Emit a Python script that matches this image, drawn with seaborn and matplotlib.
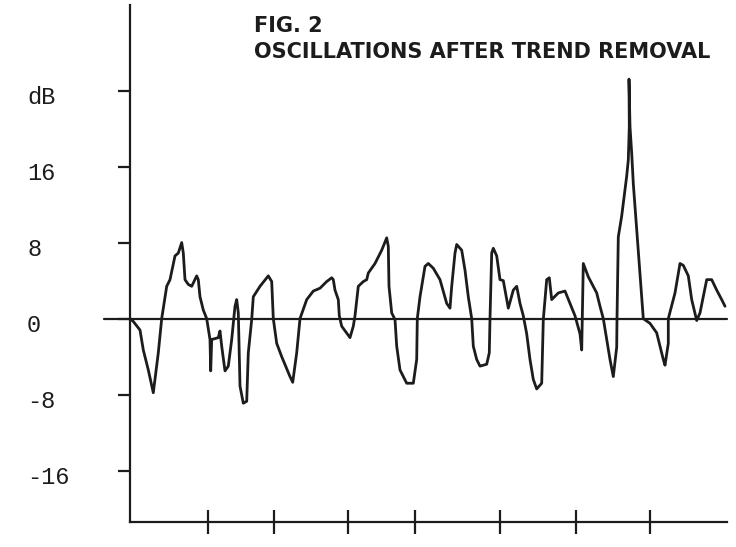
import matplotlib
matplotlib.use("Agg")
import matplotlib.pyplot as plt
import matplotlib.transforms as mtransforms
import numpy as np
import pandas as pd
import seaborn as sns

# ---- data ----
t = [0.0, 3.3, 10.0, 13.3, 18.3, 23.3, 28.3, 31.7, 36.7, 40.0, 45.0, 48.3, 51.7, 53.3, 55.0,
     58.3, 61.7, 66.7, 68.3, 70.0, 73.3, 76.7, 80.0, 80.7, 81.7, 88.3, 90.0, 91.7, 95.0, 98.3,
     101.7, 105.0, 106.7, 108.3, 110.0, 113.3, 116.7, 118.3, 121.7, 123.3, 130.0, 138.3, 141.7,
     143.3, 146.7, 151.7, 160.0, 162.7, 166.7, 170.0, 176.7, 183.3, 190.0,
     196.7, 201.7, 203.3, 205.0, 208.3, 209.3, 211.7, 220.0, 223.3, 225.0, 228.3, 233.3, 236.7,
     238.3, 245.0, 251.7, 256.7, 258.3, 259.0, 261.7, 265.0, 266.7, 270.0, 276.7, 283.3, 286.7,
     287.3, 290.0, 295.0, 298.3, 303.3, 310.0, 316.7, 320.0, 321.7, 325.0, 326.7, 331.7, 335.0,
     338.3, 341.7, 343.3, 346.7, 350.0, 356.7, 359.3, 360.0, 361.7, 363.3, 366.7, 370.0, 373.3,
     378.3, 383.3, 386.7, 390.0, 393.3, 396.7, 400.0, 403.3, 406.7, 411.7, 413.3, 416.7, 419.3,
     421.7, 428.3, 435.0, 440.0, 445.0, 450.0, 451.7, 453.3, 458.3, 466.7, 470.0, 473.3, 480.0,
     483.3, 486.7, 487.0, 488.3, 491.7, 496.7, 498.3, 499.3, 499.0, 500.0, 501.7, 503.3, 506.7,
     510.0, 513.3, 520.0, 526.7, 533.3, 535.0, 538.3, 538.3, 545.0, 550.0, 553.3, 558.3, 561.7,
     566.7, 570.0, 573.3, 576.7, 581.7, 586.7, 591.7, 595.0]
db = [0.0, -0.3, -1.2, -3.3, -5.4, -7.8, -3.6, 0.0, 3.4, 4.1, 6.6, 6.9, 8.0, 6.9, 4.1,
      3.6, 3.4, 4.5, 4.1, 2.3, 0.9, 0.0, -2.2, -5.5, -2.2, -2.0, -1.3, -2.9, -5.5, -5.0,
      -2.2, 1.3, 2.0, 0.6, -7.1, -8.9, -8.7, -3.6, -0.1, 2.3, 3.4, 4.5, 3.9,
      0.0, -2.6, -4.0, -6.1, -6.7, -3.6, 0.0, 2.0, 2.9, 3.2,
      3.9, 4.3, 4.1, 3.0, 2.0, 0.3, -0.8, -2.0, -0.8, 0.3, 3.4, 3.9, 4.1,
      4.8, 5.8, 7.2, 8.5, 7.6, 3.4, 0.6, -0.1, -2.9, -5.4, -6.8, -6.8, -4.3,
      0.0, 2.3, 5.5, 5.8, 5.3, 4.1, 1.6, 1.1, 3.4, 6.9, 7.8, 7.2, 5.1,
      2.3, 0.0, -2.9, -4.3, -5.0, -4.8, -3.6, 0.0, 6.9, 7.4, 6.6, 4.1, 4.0,
      1.1, 3.0, 3.4, 1.6, 0.3, -1.6, -4.3, -6.4, -7.4, -6.8, -0.1, 4.1, 4.3,
      2.0, 2.7, 2.9, 1.6, 0.3, -1.6, -3.3, 5.8, 4.4, 2.7, 1.3, 0.0, -4.3,
      -6.1, -3.0, 0.0, 8.6, 10.8, 15.0, 16.7, 20.2, 25.2, 20.2, 17.4, 14.2, 9.4,
      4.8, 0.0, -0.5, -1.5, -4.3, -4.9, -2.6, 0.0, 2.7, 5.8, 5.6, 4.5, 2.0,
      -0.2, 0.6, 2.3, 4.1, 4.1, 3.0, 2.0, 1.3]

ytick_values = [24, 16, 8, 0, -8, -16]
ytick_labels = ["dB", "16", "8", "0", "-8", "-16"]
xtick_values = [78, 144, 218, 285, 370, 446, 520]
title_lines = ["FIG. 2", "OSCILLATIONS AFTER TREND REMOVAL"]

df = pd.DataFrame({"t": t, "dB": db})

sns.set_theme(style="white")
plt.rcParams["font.family"] = ["DejaVu Sans"]

ink = "#1c1c1c"
fig = plt.figure(figsize=(7.36, 5.47), dpi=100)
ax = fig.add_axes([130 / 736, 25 / 547, 597 / 736, 517 / 547])

# zero reference line (extends left of the axis)
ax.plot([-26, 597], [0, 0], color=ink, lw=1.6, clip_on=False, zorder=2)

sns.lineplot(data=df, x="t", y="dB", sort=False, estimator=None, ax=ax,
             color=ink, lw=2.0, zorder=3)

ax.set_xlim(0, 597)
ax.set_ylim(-21.4, 33.0)

for side in ["top", "right"]:
    ax.spines[side].set_visible(False)
for side in ["left", "bottom"]:
    ax.spines[side].set_color(ink)
    ax.spines[side].set_linewidth(1.6)

ax.set_xticks(xtick_values)
ax.set_xticklabels([])
ax.tick_params(axis="x", direction="inout", length=17, width=1.6, color=ink, bottom=True)

ax.set_yticks(ytick_values)
ax.set_yticklabels([])
ax.tick_params(axis="y", direction="out", length=9, width=1.6, color=ink, left=True)

trans = mtransforms.blended_transform_factory(ax.transAxes, ax.transData)
shift = mtransforms.ScaledTranslation(0, -7 / 100, fig.dpi_scale_trans)
for v, lab in zip(ytick_values, ytick_labels):
    ax.text(-0.1725, v, lab, transform=trans + shift, ha="left", va="center",
            fontsize=17, family=["Liberation Mono", "DejaVu Sans Mono"], color=ink)

ax.set_xlabel("")
ax.set_ylabel("")

fig.text(254 / 736, 1 - 32 / 547, title_lines[0], ha="left", va="baseline",
         fontsize=15, fontweight="bold", color=ink)
fig.text(254 / 736, 1 - 58 / 547, title_lines[1], ha="left", va="baseline",
         fontsize=15, fontweight="bold", color=ink)

fig.savefig("out.png", dpi=100)
